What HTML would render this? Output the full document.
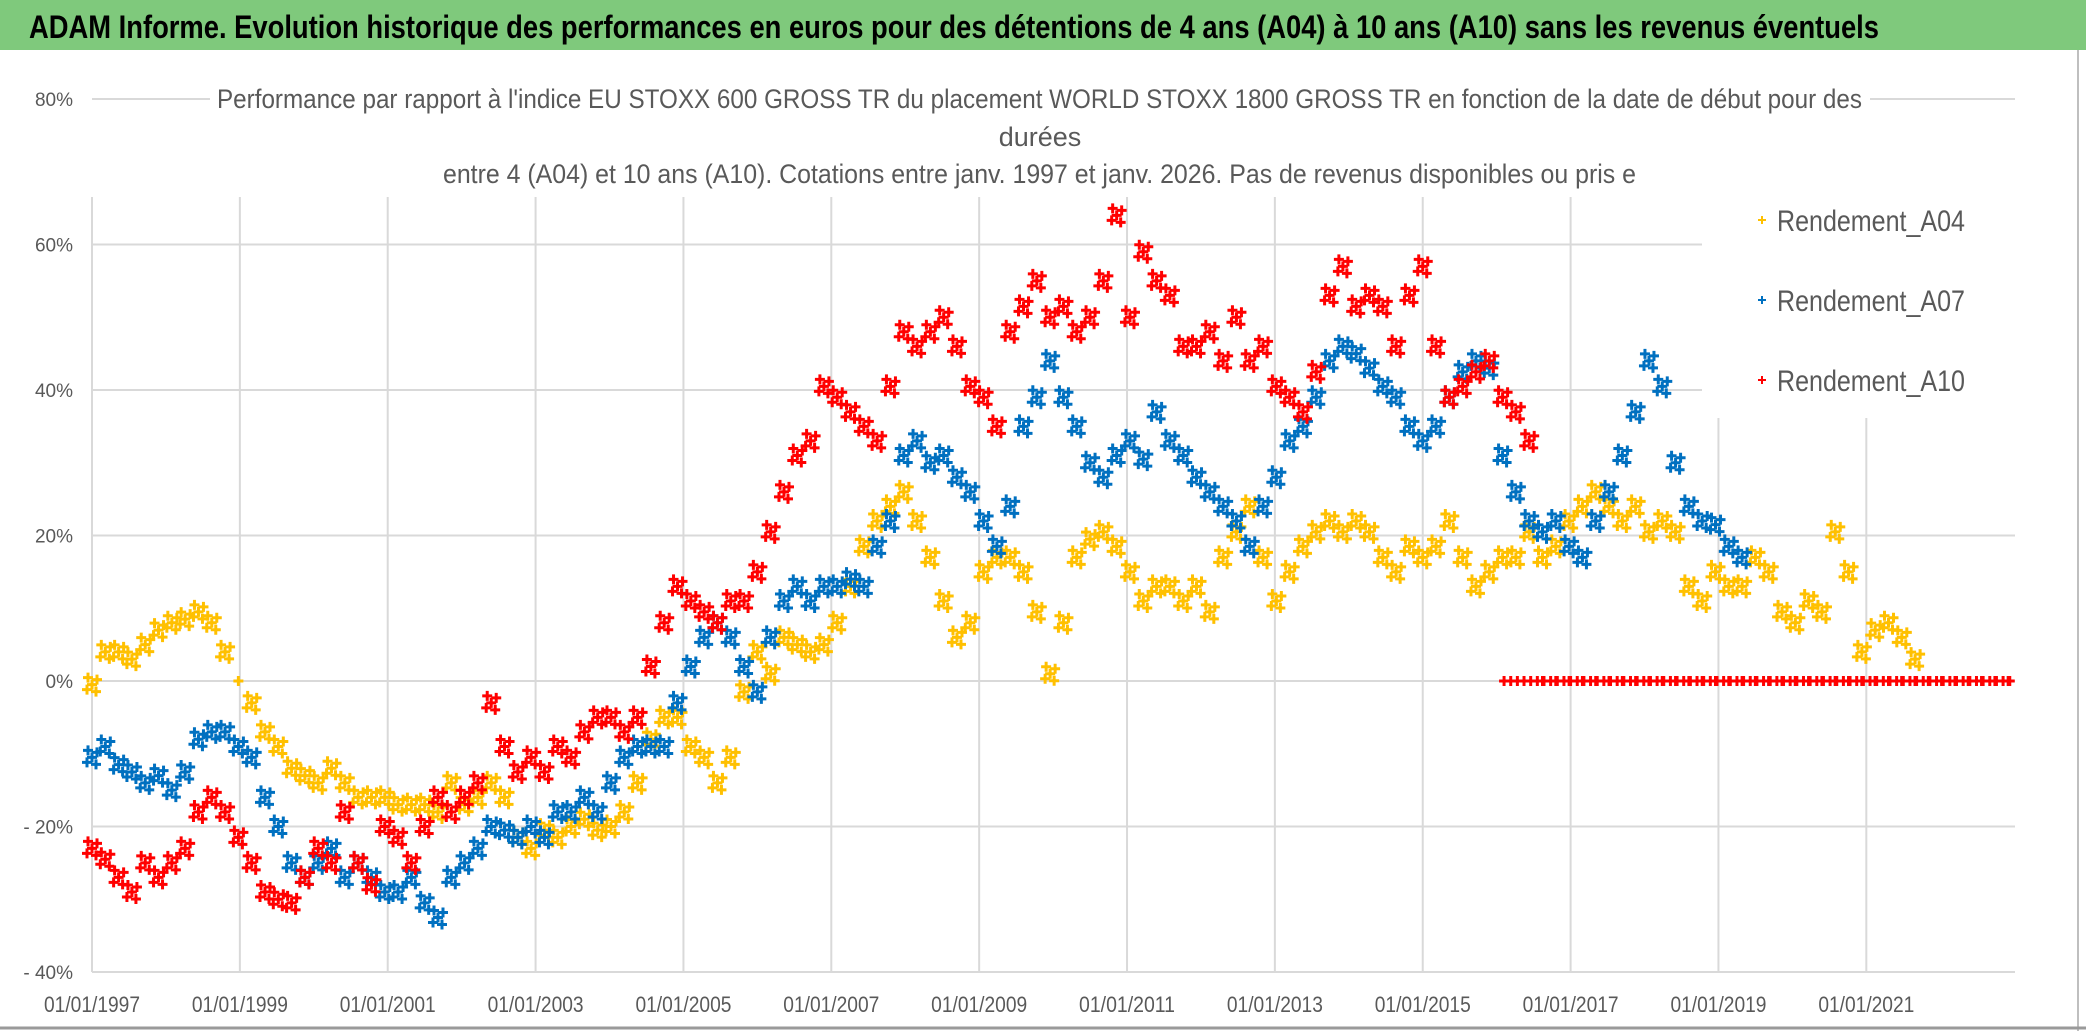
<!DOCTYPE html>
<html><head><meta charset="utf-8"><style>
html,body{margin:0;padding:0;background:#fff;}
svg{display:block;font-family:"Liberation Sans",sans-serif;}
</style></head><body>
<svg id="chart" width="2086" height="1031" viewBox="0 0 2086 1031">
  <rect x="0" y="0" width="2086" height="1031" fill="#fff"/>
  <rect x="0" y="0" width="2086" height="50" fill="#7fc97c"/>
  <text x="29" y="38" font-size="32" font-weight="bold" fill="#000" textLength="1850" lengthAdjust="spacingAndGlyphs">ADAM Informe. Evolution historique des performances en euros pour des détentions de 4 ans (A04) à 10 ans (A10) sans les revenus éventuels</text>
  <line x1="2078" y1="50" x2="2078" y2="1031" stroke="#bfbfbf" stroke-width="2"/>
  <line x1="0" y1="1028" x2="2086" y2="1028" stroke="#9a9a9a" stroke-width="3"/>
  <g id="grid"></g>
  <g id="yticks"></g>
  <g id="xticks"></g>
  <g id="titlebox">
    <rect x="210" y="76" width="1660" height="118" fill="#fff"/>
    <text x="217" y="108" font-size="27" fill="#595959" textLength="1645" lengthAdjust="spacingAndGlyphs">Performance par rapport à l'indice EU STOXX 600 GROSS TR  du placement WORLD STOXX 1800 GROSS TR en fonction de la date de début pour des</text>
    <text x="1040" y="146" font-size="27" fill="#595959" text-anchor="middle">durées</text>
    <text x="443" y="183" font-size="27" fill="#595959" textLength="1193" lengthAdjust="spacingAndGlyphs">entre 4 (A04) et 10 ans (A10). Cotations entre janv. 1997 et janv. 2026. Pas de revenus disponibles ou pris e</text>
  </g>
  <rect x="1702" y="196" width="314" height="222" fill="#fff"/>
  <g id="series"></g>
  <g id="legend"></g>
</svg>
<script>
// ---- data ----
const startYear = 1997;
const stepYears = 0.18;
const endYear = 2023.0;
const yTickValues = [80, 60, 40, 20, 0, -20, -40];
const yTickLabels = ["80%", "60%", "40%", "20%", "0%", "- 20%", "- 40%"];
const xTickYears = [1997, 1999, 2001, 2003, 2005, 2007, 2009, 2011, 2013, 2015, 2017, 2019, 2021];
const xTickLabels = ["01/01/1997","01/01/1999","01/01/2001","01/01/2003","01/01/2005","01/01/2007","01/01/2009","01/01/2011","01/01/2013","01/01/2015","01/01/2017","01/01/2019","01/01/2021"];
const seriesNames = ["Rendement_A04", "Rendement_A07", "Rendement_A10"];
const seriesColors = ["#FFC000", "#0070C0", "#FF0000"];
const valuesA04 = [-0.5,4,4,3,5,7,8,8.5,9.5,8,4,0,-3,-7,-9,-12,-13,-14,-12,-14,-16,-16,-16,-17,-17,-17,-18,-14,-17,-16,-14,-16,-21.5,-23,-20.5,-21.5,-20,-19,-20.5,-20,-18,-14,-8,-5,-5,-9,-10.5,-14,-10.5,-1.5,4,1,6,5,4,5,8,13,18.5,22,24,26,22,17,11,6,8,15,17,17,15,9.5,1,8,17,19.5,20.5,18.5,15,11,13,13,11,13,9.5,17,20.5,24,17,11,15,18.5,20.5,22,20.5,22,20.5,17,15,18.5,17,18.5,22,17,13,15,17,17,20.5,17,18.5,22,24,26,24,22,24,20.5,22,20.5,13,11,15,13,13,17,15,9.5,8,11,9.5,20.5,15,4,7,8,6,3,0,0,0,0,0];
const valuesA07 = [-10.5,-9,-11.5,-12.5,-14,-13,-15,-12.5,-8,-7,-7,-9,-10.5,-16,-20,-25,-27,-25,-23,-27,-25,-27,-29,-29,-27,-30.5,-32.5,-27,-25,-23,-20,-20.5,-21.5,-20,-21.5,-18,-18,-16,-18,-14,-10.5,-9,-9,-9,-3,2,6,8,6,2,-1.5,6,11,13,11,13,13,14,13,18.5,22,31,33,30,31,28,26,22,18.5,24,35,39,44,39,35,30,28,31,33,30.5,37,33,31,28,26,24,22,18.5,24,28,33,35,39,44,46,45,43,40.5,39,35,33,35,39,42.5,44,43,31,26,22,20.5,22,18.5,17,22,26,31,37,44,40.5,30,24,22,21.5,18.5,17,0,0,0,0,0,0,0,0,0,0,0,0,0,0,0,0,0,0,0,0,0,0];
const valuesA10 = [-23,-24.5,-27,-29,-25,-27,-25,-23,-18,-16,-18,-21.5,-25,-29,-30,-30.5,-27,-23,-25,-18,-25,-28,-20,-21.5,-25,-20,-16,-18,-16,-14,-3,-9,-12.5,-10.5,-12.5,-9,-10.5,-7,-5,-5,-7,-5,2,8,13,11,9.5,8,11,11,15,20.5,26,31,33,40.5,39,37,35,33,40.5,48,46,48,50,46,40.5,39,35,48,51.5,55,50,51.5,48,50,55,64,50,59,55,53,46,46,48,44,50,44,46,40.5,39,37,42.5,53,57,51.5,53,51.5,46,53,57,46,39,40.5,42.5,44,39,37,33,0,0,0,0,0,0,0,0,0,0,0,0,0,0,0,0,0,0,0,0,0,0,0,0,0,0,0,0,0,0,0,0,0,0,0,0,0,0];
const zeroStartA10 = 2016.1;

// ---- axes ----
const X0 = 92, XPY = 73.93, Y0 = 681, YPP = 7.275, XR = 2015;
const xScale = yr => X0 + (yr - startYear) * XPY;
const yScale = v => Y0 - v * YPP;
const NS = "http://www.w3.org/2000/svg";
function mk(tag, attrs, parent){ const e=document.createElementNS(NS,tag); for(const k in attrs) e.setAttribute(k,attrs[k]); parent.appendChild(e); return e; }

const grid = document.getElementById('grid');
yTickValues.forEach((v,i)=>{
  const y = yScale(v);
  const l = mk('line',{x1:X0,y1:y,x2:XR,y2:y,stroke:'#d9d9d9','stroke-width':2},grid);
  
  
  const t = mk('text',{x:73,y:y+7,'font-size':19,fill:'#595959','text-anchor':'end'},document.getElementById('yticks'));
  t.textContent = yTickLabels[i];
  
  
});
xTickYears.forEach((yr,i)=>{
  const x = xScale(yr);
  const top = (x > 1702) ? 418 : 197;
  const l = mk('line',{x1:x,y1:top,x2:x,y2:yScale(-40),stroke:'#d9d9d9','stroke-width':2},grid);
  
  
  const t = mk('text',{x:x,y:1012,'font-size':22,fill:'#595959','text-anchor':'middle',textLength:96,lengthAdjust:'spacingAndGlyphs'},document.getElementById('xticks'));
  t.textContent = xTickLabels[i];
  
  
});

// ---- series ----
const seriesG = document.getElementById('series');
// marker cluster (style only): a few plus glyphs around each sampled point to mimic daily density
const clusterOffsets = [[0,0],[-4,-7],[4,7],[-5,5],[5,-5]];
function plus(g, x, y, color, cluster){
  let d = '';
  const offs = cluster ? clusterOffsets : [[0,0]];
  offs.forEach(([dx,dy])=>{ const cx=x+dx, cy=y+dy; d += `M${cx-5} ${cy}H${cx+5}M${cx} ${cy-5}V${cy+5}`; });
  const p = mk('path',{d:d,stroke:color,'stroke-width':3},g);
  
  
}
function drawSeries(vals, color, name){
  const g = mk('g',{},seriesG);
  
  
  vals.forEach((v,i)=>{
    const yr = startYear + i*stepYears;
    if (yr > endYear) return;
    plus(g, xScale(yr), yScale(v), color, v !== 0);
  });
}
drawSeries(valuesA04, seriesColors[0], 'series-a04');
drawSeries(valuesA07, seriesColors[1], 'series-a07');
drawSeries(valuesA10, seriesColors[2], 'series-a10');
// A10 zero segment starting earlier, overlapping the last values
{
  const g = mk('g',{},seriesG);
  
  
  for (let yr = zeroStartA10; yr <= endYear; yr += stepYears/2){
    plus(g, xScale(yr), yScale(0), seriesColors[2], false);
  }
}

// ---- legend ----
const leg = document.getElementById('legend');
[220,300,380].forEach((y,i)=>{
  const g = mk('g',{},leg);
  
  
  mk('path',{d:`M1758 ${y}H1766M1762 ${y-4}V${y+4}`,stroke:seriesColors[i],'stroke-width':2},g);
  const t = mk('text',{x:1777,y:y+11,'font-size':30,fill:'#595959',textLength:188,lengthAdjust:'spacingAndGlyphs'},g);
  t.textContent = seriesNames[i];
});
</script>
</body></html>
